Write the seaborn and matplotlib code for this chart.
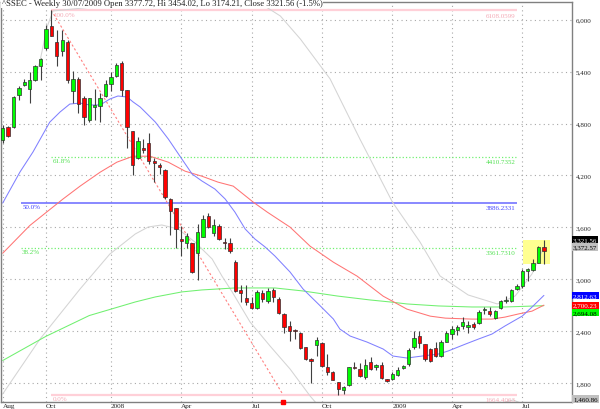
import numpy as np
import pandas as pd
import matplotlib
matplotlib.use('Agg')
import matplotlib.pyplot as plt
import matplotlib.transforms as mtrans
import seaborn as sns

# ^SSEC weekly bars, Aug 2007 - Jul 2009
opens = [4607, 4762, 4762, 5127, 5250, 5200, 5308, 5461, 5673, 5931,
         5738, 5642, 5738, 5177, 5319, 5092, 4838, 4995, 5008, 5123,
         5258, 5354, 5500, 5184, 4712, 4404, 4519, 4577, 4365, 4323,
         4258, 3931, 3827, 3462, 3423, 3415, 3300, 3492, 3731, 3538,
         3615, 3435, 3423, 3200, 2873, 2781, 2723, 2666, 2838, 2750,
         2877, 2777, 2596, 2454, 2412, 2377, 2212, 2077, 2242, 2258,
         1981, 1923, 1808, 1719, 1777, 1988, 1962, 1865, 2046, 1981,
         2008, 1846, 1846, 1892, 1973, 2019, 2212, 2338, 2250, 2192,
         2204, 2115, 2277, 2365, 2415, 2462, 2442, 2481, 2492, 2640,
         2627, 2546, 2662, 2746, 2750, 2892, 2923, 3096, 3104, 3192,
         3377.72]
closes = [4750, 4654, 5108, 5212, 5275, 5308, 5461, 5546, 5896, 5808,
          5585, 5762, 5308, 5315, 5027, 4877, 5092, 5010, 5092, 5258,
          5342, 5477, 5184, 4758, 4315, 4596, 4492, 4365, 4346, 4300,
          3954, 3788, 3577, 3442, 3496, 3089, 3550, 3692, 3608, 3623,
          3469, 3423, 3327, 2865, 2838, 2742, 2662, 2854, 2769, 2865,
          2800, 2608, 2442, 2404, 2396, 2200, 2077, 2058, 2296, 2000,
          1923, 1838, 1731, 1750, 1981, 1969, 1877, 2008, 1962, 2008,
          1854, 1819, 1904, 1950, 2000, 2181, 2315, 2262, 2077, 2058,
          2115, 2277, 2373, 2423, 2442, 2500, 2469, 2442, 2623, 2645,
          2596, 2627, 2750, 2758, 2873, 2923, 3096, 3115, 3192, 3373,
          3321.56]
highs = [4788, 4775, 5120, 5235, 5310, 5392, 5480, 5560, 5942, 6108,
         5885, 5885, 5760, 5404, 5339, 5115, 5092, 5200, 5154, 5300,
         5400, 5500, 5519, 5192, 4712, 4640, 4623, 4685, 4404, 4346,
         4269, 3942, 3827, 3615, 3538, 3415, 3635, 3742, 3770, 3700,
         3640, 3481, 3481, 3220, 2931, 2931, 2800, 2880, 2880, 2900,
         2904, 2790, 2608, 2519, 2423, 2385, 2220, 2085, 2327, 2270,
         2135, 1940, 1815, 1769, 1990, 2039, 2030, 2077, 2100, 2020,
         2040, 1850, 1930, 1990, 2010, 2200, 2404, 2404, 2250, 2200,
         2270, 2300, 2400, 2462, 2470, 2560, 2519, 2500, 2640, 2680,
         2680, 2640, 2760, 2810, 2885, 2950, 3115, 3125, 3230, 3385,
         3454.02]
lows = [4577, 4640, 4750, 5069, 5230, 5042, 5290, 5308, 5654, 5808,
        5461, 5577, 5270, 5038, 4923, 4777, 4815, 4846, 4815, 5110,
        5180, 5340, 5115, 4519, 4200, 4390, 4462, 4327, 4123, 4211,
        3923, 3508, 3366, 3269, 3366, 3070, 2992, 3492, 3590, 3500,
        3450, 3346, 3300, 2850, 2731, 2700, 2650, 2650, 2740, 2720,
        2731, 2600, 2377, 2288, 2308, 2190, 2070, 1800, 2115, 1990,
        1892, 1830, 1664, 1673, 1770, 1962, 1870, 1846, 1950, 1950,
        1846, 1814, 1840, 1880, 1960, 2000, 2192, 2210, 2060, 2040,
        2100, 2100, 2270, 2308, 2350, 2430, 2373, 2430, 2480, 2600,
        2580, 2540, 2650, 2730, 2740, 2870, 2900, 2980, 3100, 3185,
        3174.21]

# x ticks (bar index of first bar in the month)
tick_bars = [0, 8, 20, 33, 46, 59, 72, 83, 96]
tick_labels = ['Aug', 'Oct', '2008', 'Apr', 'Jul', 'Oct', '2009', 'Apr', 'Jul']

# moving averages / bands, (bar, value) read at sample points
blue_bar = [0, 3.2, 5.6, 8.7, 10.6, 12.4, 14.3, 16.1, 18.0, 19.8, 21.3, 23.0, 24.1, 25.4, 28.2, 30.6,
            33.1, 35.0, 36.8, 39.2, 41.1, 42.9, 44.8, 46.6, 48.5, 50.3, 53.1, 55.5, 58.7, 61.1, 62.3,
            64.2, 67.3, 70.3, 72.1, 74.7, 77.5, 80.5, 82.3, 85.5, 87.9, 90.4, 92.8, 96.0, 97.8, 100]
blue_val = [3880, 4240, 4471, 4816, 4933, 5025, 5036, 5014, 5014, 5083, 5118, 5106, 5049, 4991, 4817, 4621,
            4390, 4216, 4136, 4043, 3928, 3777, 3581, 3465, 3372, 3268, 3083, 2887, 2690, 2540, 2424,
            2343, 2274, 2193, 2112, 2089, 2112, 2135, 2170, 2250, 2308, 2366, 2459, 2574, 2678, 2812.63]
red_bar = [0, 5, 11.1, 14.3, 18.0, 21.1, 24.1, 27.2, 30.6, 33.7, 36.8, 39.8, 42.6, 46.3, 48.9, 53.1,
           56.8, 61.1, 65.5, 70.3, 74.7, 79.0, 81.8, 86.7, 90.4, 92.8, 95.2, 97.8, 100]
red_val = [3300, 3620, 3925, 4076, 4237, 4353, 4422, 4422, 4353, 4249, 4191, 4122, 4076, 3891, 3775, 3602,
           3382, 3197, 3035, 2804, 2654, 2573, 2550, 2539, 2539, 2562, 2597, 2631, 2700.23]
green_bar = [0, 8, 16, 24.5, 28.2, 33.1, 36.8, 42.9, 50.3, 55.5, 61.8, 67.9, 71.6, 74.7, 80.5, 86.7, 92.8, 100]
green_val = [2060, 2340, 2580, 2737, 2795, 2853, 2876, 2899, 2899, 2864, 2806, 2760, 2737, 2714, 2691, 2679,
             2679, 2694.08]
upper_bar = [6.0, 6.9, 8.2, 9.3, 14.8, 19.8, 24.1, 30.4, 36.5, 43.9, 48.1, 51.3, 55.0, 60.5, 66.0, 72.0,
             77.1, 80.8, 86.0, 91.4, 94.7, 97.8, 100]
upper_val = [5315, 5523, 5916, 6101, 6135, 6170, 6181, 6193, 6193, 6181, 6170, 6043, 5777, 5315, 4621, 3893,
             3431, 3038, 2818, 2714, 2807, 3061, 3372.57]
lower_bar = [0, 6.9, 14.3, 19.8, 24.5, 26.9, 29.4, 32.4, 35.5, 38.7, 40.5, 42.4, 45.7, 49.4, 53.1, 56.8,
             59.2, 86.6, 94.3, 100]
lower_val = [1673, 2309, 2887, 3291, 3523, 3604, 3627, 3581, 3431, 3234, 3038, 2853, 2506, 2228, 1962, 1650,
             1476, 1476, 1604, 1460.86]

# Fibonacci retracement
fib_pct = ['100.0%', '61.8%', '50.0%', '38.2%', '0.0%']
fib_val = [6108.0599, 4410.7352, 3886.2331, 3361.7310, 1664.4063]
fib_start = [9, 9, 3.3, 3.3, 9]
fib_end = 95.1

title = '^SSEC - Weekly 30/07/2009 Open 3377.72, Hi 3454.02, Lo 3174.21, Close 3321.56 (-1.5%)'

sns.set_style('white')
plt.rcParams['font.family'] = ['Liberation Serif', 'DejaVu Serif']

fig = plt.figure(figsize=(6, 4.1), dpi=100)
ax = fig.add_axes([1 / 600, 7 / 410, 570.5 / 600, 400 / 410])

# MA lines and bands through seaborn
lines = pd.concat([
    pd.DataFrame({'bar': upper_bar, 'value': upper_val, 'series': 'upper'}),
    pd.DataFrame({'bar': lower_bar, 'value': lower_val, 'series': 'lower'}),
    pd.DataFrame({'bar': green_bar, 'value': green_val, 'series': 'green'}),
    pd.DataFrame({'bar': red_bar, 'value': red_val, 'series': 'red'}),
    pd.DataFrame({'bar': blue_bar, 'value': blue_val, 'series': 'blue'}),
])
pal = {'upper': '#d4d4d4', 'lower': '#d4d4d4', 'green': '#70f070', 'red': '#ff7474', 'blue': '#8080ff'}
sns.lineplot(data=lines, x='bar', y='value', hue='series', palette=pal, estimator=None,
             legend=False, linewidth=0.75, ax=ax, zorder=2)

# fib levels
fcol = ['#ffd0d8', '#70f070', '#6868ff', '#70f070', '#ffd0d8']
fsty = ['-', ':', '-', ':', '-']
fw = [1.6, 0.9, 1.1, 0.9, 1.6]
tcol = ['#f4a8b4', '#50e050', '#4040ff', '#50e050', '#f4a8b4']
for p, v, x0, c, s, w, tc in zip(fib_pct, fib_val, fib_start, fcol, fsty, fw, tcol):
    ax.hlines(v, x0, fib_end, colors=c, linestyles=s, linewidth=w, zorder=1.5)
    ax.text(x0 + 0.3, v - 15, p, color=tc, fontsize=5, va='top', ha='left')
    ax.text(fib_end - 0.3, v - 25, '%.4f' % v, color=tc, fontsize=5, va='top', ha='right')

# trend line from high to low
ax.plot([9, 51.8], [fib_val[0], fib_val[-1]], color='#ff8080', ls=(0, (2, 2)), lw=0.8, zorder=1.6)
ax.plot([51.8], [1581], marker='s', ms=3, color='#ff0000', clip_on=False, zorder=5)

# yellow highlight on the last bar
n = len(closes)
ax.add_patch(plt.Rectangle((n - 1 - 3.9, lows[-1]), 5.1, highs[-1] - lows[-1],
                           facecolor='#ffff90', edgecolor='none', zorder=1))

# candles
x = np.arange(n)
o = np.array(opens)
c = np.array(closes)
up = c >= o
ax.vlines(x, lows, highs, color='#404040', linewidth=0.8, zorder=3)
body = np.maximum(np.abs(c - o), 12)
ax.bar(x, body, bottom=np.minimum(o, c), width=0.62,
       color=np.where(up, '#00ff00', '#ff0000'), edgecolor='#303030', linewidth=0.5, zorder=4)

ax.set_xlim(-0.31, 105.1)
ax.set_ylim(1580.6, 6204.6)
ax.set_xlabel('')
ax.set_ylabel('')

ax.set_xticks(tick_bars)
ax.set_xticklabels(tick_labels, fontsize=5.2, ha='left', va='top')
for lab in ax.get_xticklabels():
    lab.set_transform(lab.get_transform() + mtrans.ScaledTranslation(1.2 / 100, 0, fig.dpi_scale_trans))
ax.tick_params(axis='x', length=5, width=0.6, color='#404040', pad=-4.6, direction='out')
yt = np.arange(1800, 6001, 600)
ax.yaxis.tick_right()
ax.set_yticks(yt)
ax.set_yticklabels(['{:,}'.format(v) for v in yt], fontsize=5)
ax.tick_params(axis='y', length=0, pad=3)

ax.grid(True, color='#a8a8a8', linestyle=(0, (1, 3)), linewidth=0.8)
for s in ax.spines.values():
    s.set_color('#808080')
    s.set_linewidth(1)

# value boxes on the right axis
lab_val = [3321.56, 3372.57, 2812.63, 2700.23, 2694.08, 1460.86]
lab_off = [12, 0, 0, 0, -7, 0]
lab_bg = ['#000000', '#c0c0c0', '#0000ff', '#ff0000', '#00ff00', '#c0c0c0']
lab_fg = ['white', 'black', 'white', 'white', 'black', 'black']
yaxt = ax.get_yaxis_transform()
for v, off, bg, fg in zip(lab_val, lab_off, lab_bg, lab_fg):
    vv = max(v, 1581 + 35)
    t = mtrans.offset_copy(yaxt, fig=fig, x=1.5, y=off, units='dots')
    ax.text(1.0, vv, '{:,.2f}'.format(v), transform=t, fontsize=5, color=fg, va='center', ha='left',
            bbox=dict(facecolor=bg, edgecolor='none', pad=0.8), clip_on=False, zorder=6)

fig.text(2 / 600, 1 - 4 / 410, title, fontsize=6.2, va='center', ha='left', color='#202020',
         bbox=dict(facecolor='white', edgecolor='none', pad=0.5))

fig.savefig('out.png', dpi=100)
